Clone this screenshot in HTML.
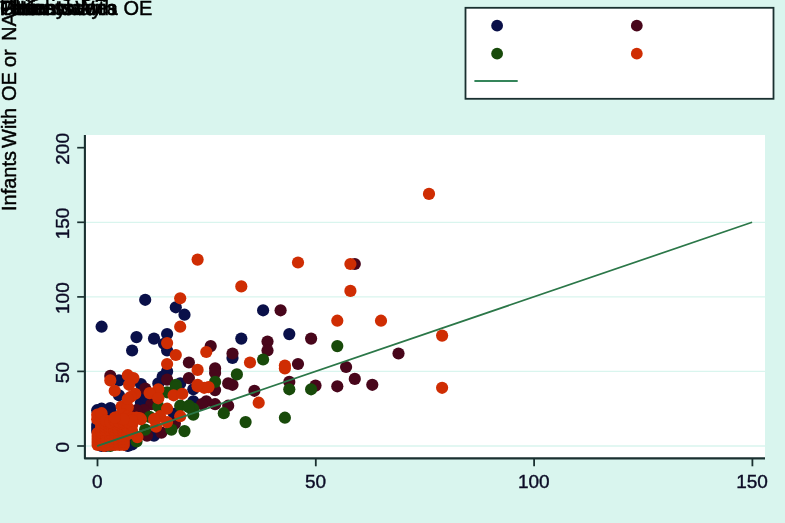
<!DOCTYPE html>
<html lang="en">
<head>
<meta charset="utf-8">
<title>Infants With OE or NAS</title>
<style>
html,body{margin:0;padding:0;background:#d9f5ee;}
body{width:785px;height:523px;overflow:hidden;position:relative;background:#d9f5ee;font-family:"Liberation Sans",Arial,Helvetica,sans-serif;color:#000;}
.tk{font-family:"Liberation Sans",Arial,Helvetica,sans-serif;font-size:19px;fill:#0c0c26;stroke:#0c0c26;stroke-width:0.4px;}
.lb{position:absolute;left:0;top:-2px;-webkit-text-stroke:0.45px #000;white-space:nowrap;font-size:20px;line-height:20px;word-spacing:5px;}
.yl{position:absolute;left:-1px;-webkit-text-stroke:0.45px #000;white-space:nowrap;font-size:20px;line-height:20px;transform-origin:0 0;transform:rotate(-90deg);}
.tt{position:absolute;left:0;top:-16px;white-space:nowrap;font-size:20px;line-height:20px;}
</style>
</head>
<body>
<svg width="785" height="523" viewBox="0 0 785 523" style="position:absolute;left:0;top:0">
<rect x="85" y="135" width="680" height="323.5" fill="#ffffff"/>
<line x1="85" x2="765" y1="446.0" y2="446.0" stroke="#d9f5ee" stroke-width="1.3"/>
<line x1="85" x2="765" y1="371.4" y2="371.4" stroke="#d9f5ee" stroke-width="1.3"/>
<line x1="85" x2="765" y1="296.9" y2="296.9" stroke="#d9f5ee" stroke-width="1.3"/>
<line x1="85" x2="765" y1="222.3" y2="222.3" stroke="#d9f5ee" stroke-width="1.3"/>
<g>
<circle cx="289.3" cy="334.1" r="6.1" fill="#0a1049"/>
<circle cx="145.2" cy="299.8" r="6.1" fill="#0a1049"/>
<circle cx="175.8" cy="307.3" r="6.1" fill="#0a1049"/>
<circle cx="184.5" cy="314.7" r="6.1" fill="#0a1049"/>
<circle cx="101.6" cy="326.7" r="6.1" fill="#0a1049"/>
<circle cx="263.1" cy="310.3" r="6.1" fill="#0a1049"/>
<circle cx="241.3" cy="338.6" r="6.1" fill="#0a1049"/>
<circle cx="136.5" cy="337.1" r="6.1" fill="#0a1049"/>
<circle cx="154.0" cy="338.6" r="6.1" fill="#0a1049"/>
<circle cx="167.1" cy="334.1" r="6.1" fill="#0a1049"/>
<circle cx="164.0" cy="343.8" r="6.1" fill="#0a1049"/>
<circle cx="167.1" cy="350.5" r="6.1" fill="#0a1049"/>
<circle cx="132.1" cy="350.5" r="6.1" fill="#0a1049"/>
<circle cx="167.1" cy="371.4" r="6.1" fill="#0a1049"/>
<circle cx="162.7" cy="376.6" r="6.1" fill="#0a1049"/>
<circle cx="180.2" cy="383.4" r="6.1" fill="#0a1049"/>
<circle cx="158.3" cy="383.4" r="6.1" fill="#0a1049"/>
<circle cx="119.0" cy="380.4" r="6.1" fill="#0a1049"/>
<circle cx="140.9" cy="384.1" r="6.1" fill="#0a1049"/>
<circle cx="193.3" cy="389.3" r="6.1" fill="#0a1049"/>
<circle cx="232.5" cy="358.0" r="6.1" fill="#0a1049"/>
<circle cx="193.3" cy="401.3" r="6.1" fill="#0a1049"/>
<circle cx="140.9" cy="402.7" r="6.1" fill="#0a1049"/>
<circle cx="119.0" cy="395.3" r="6.1" fill="#0a1049"/>
<circle cx="101.6" cy="410.2" r="6.1" fill="#0a1049"/>
<circle cx="110.3" cy="408.0" r="6.1" fill="#0a1049"/>
<circle cx="154.0" cy="435.6" r="6.1" fill="#0a1049"/>
<circle cx="127.8" cy="445.3" r="6.1" fill="#0a1049"/>
<circle cx="101.6" cy="446.0" r="6.1" fill="#0a1049"/>
<circle cx="97.2" cy="410.2" r="6.1" fill="#0a1049"/>
<circle cx="101.6" cy="408.7" r="6.1" fill="#0a1049"/>
<circle cx="105.9" cy="414.7" r="6.1" fill="#0a1049"/>
<circle cx="110.3" cy="413.2" r="6.1" fill="#0a1049"/>
<circle cx="114.7" cy="416.2" r="6.1" fill="#0a1049"/>
<circle cx="127.8" cy="446.0" r="6.1" fill="#0a1049"/>
<circle cx="132.1" cy="444.5" r="6.1" fill="#0a1049"/>
<circle cx="97.2" cy="431.1" r="6.1" fill="#0a1049"/>
<circle cx="97.2" cy="428.1" r="6.1" fill="#0a1049"/>
<circle cx="97.2" cy="425.1" r="6.1" fill="#0a1049"/>
<circle cx="105.9" cy="446.0" r="6.1" fill="#0a1049"/>
<circle cx="145.2" cy="396.8" r="6.1" fill="#0a1049"/>
<circle cx="174.0" cy="413.9" r="6.1" fill="#0a1049"/>
<circle cx="354.8" cy="264.0" r="6.1" fill="#48061b"/>
<circle cx="311.1" cy="338.6" r="6.1" fill="#48061b"/>
<circle cx="398.5" cy="353.5" r="6.1" fill="#48061b"/>
<circle cx="298.0" cy="364.0" r="6.1" fill="#48061b"/>
<circle cx="346.1" cy="367.0" r="6.1" fill="#48061b"/>
<circle cx="354.8" cy="378.9" r="6.1" fill="#48061b"/>
<circle cx="289.3" cy="381.9" r="6.1" fill="#48061b"/>
<circle cx="315.5" cy="385.6" r="6.1" fill="#48061b"/>
<circle cx="337.3" cy="386.3" r="6.1" fill="#48061b"/>
<circle cx="372.3" cy="384.8" r="6.1" fill="#48061b"/>
<circle cx="280.6" cy="310.3" r="6.1" fill="#48061b"/>
<circle cx="267.5" cy="341.6" r="6.1" fill="#48061b"/>
<circle cx="267.5" cy="350.5" r="6.1" fill="#48061b"/>
<circle cx="210.7" cy="346.1" r="6.1" fill="#48061b"/>
<circle cx="232.5" cy="353.5" r="6.1" fill="#48061b"/>
<circle cx="188.9" cy="362.5" r="6.1" fill="#48061b"/>
<circle cx="215.1" cy="368.4" r="6.1" fill="#48061b"/>
<circle cx="215.1" cy="372.9" r="6.1" fill="#48061b"/>
<circle cx="188.9" cy="378.1" r="6.1" fill="#48061b"/>
<circle cx="228.2" cy="383.4" r="6.1" fill="#48061b"/>
<circle cx="232.5" cy="384.8" r="6.1" fill="#48061b"/>
<circle cx="215.1" cy="390.1" r="6.1" fill="#48061b"/>
<circle cx="254.4" cy="390.8" r="6.1" fill="#48061b"/>
<circle cx="206.3" cy="401.3" r="6.1" fill="#48061b"/>
<circle cx="202.0" cy="404.2" r="6.1" fill="#48061b"/>
<circle cx="215.1" cy="404.2" r="6.1" fill="#48061b"/>
<circle cx="228.2" cy="405.7" r="6.1" fill="#48061b"/>
<circle cx="167.1" cy="379.6" r="6.1" fill="#48061b"/>
<circle cx="110.3" cy="375.9" r="6.1" fill="#48061b"/>
<circle cx="145.2" cy="388.6" r="6.1" fill="#48061b"/>
<circle cx="151.3" cy="404.2" r="6.1" fill="#48061b"/>
<circle cx="143.9" cy="410.2" r="6.1" fill="#48061b"/>
<circle cx="174.9" cy="423.6" r="6.1" fill="#48061b"/>
<circle cx="161.4" cy="432.6" r="6.1" fill="#48061b"/>
<circle cx="147.0" cy="435.6" r="6.1" fill="#48061b"/>
<circle cx="136.5" cy="410.2" r="6.1" fill="#48061b"/>
<circle cx="337.3" cy="346.1" r="6.1" fill="#184a0a"/>
<circle cx="289.3" cy="389.3" r="6.1" fill="#184a0a"/>
<circle cx="311.1" cy="389.3" r="6.1" fill="#184a0a"/>
<circle cx="284.9" cy="417.7" r="6.1" fill="#184a0a"/>
<circle cx="263.1" cy="359.5" r="6.1" fill="#184a0a"/>
<circle cx="236.9" cy="374.4" r="6.1" fill="#184a0a"/>
<circle cx="215.1" cy="381.9" r="6.1" fill="#184a0a"/>
<circle cx="188.9" cy="405.7" r="6.1" fill="#184a0a"/>
<circle cx="193.3" cy="408.7" r="6.1" fill="#184a0a"/>
<circle cx="193.3" cy="414.7" r="6.1" fill="#184a0a"/>
<circle cx="223.8" cy="413.2" r="6.1" fill="#184a0a"/>
<circle cx="245.6" cy="422.1" r="6.1" fill="#184a0a"/>
<circle cx="175.8" cy="384.8" r="6.1" fill="#184a0a"/>
<circle cx="167.1" cy="392.3" r="6.1" fill="#184a0a"/>
<circle cx="175.8" cy="387.1" r="6.1" fill="#184a0a"/>
<circle cx="158.3" cy="406.5" r="6.1" fill="#184a0a"/>
<circle cx="180.2" cy="405.7" r="6.1" fill="#184a0a"/>
<circle cx="188.9" cy="407.2" r="6.1" fill="#184a0a"/>
<circle cx="171.4" cy="429.6" r="6.1" fill="#184a0a"/>
<circle cx="184.5" cy="431.1" r="6.1" fill="#184a0a"/>
<circle cx="145.2" cy="429.6" r="6.1" fill="#184a0a"/>
<circle cx="149.6" cy="416.9" r="6.1" fill="#184a0a"/>
<circle cx="136.5" cy="441.5" r="6.1" fill="#184a0a"/>
<circle cx="110.3" cy="446.0" r="6.1" fill="#184a0a"/>
<circle cx="429.0" cy="193.9" r="6.1" fill="#cf2d03"/>
<circle cx="298.0" cy="262.5" r="6.1" fill="#cf2d03"/>
<circle cx="350.4" cy="264.0" r="6.1" fill="#cf2d03"/>
<circle cx="350.4" cy="290.9" r="6.1" fill="#cf2d03"/>
<circle cx="337.3" cy="320.7" r="6.1" fill="#cf2d03"/>
<circle cx="381.0" cy="320.7" r="6.1" fill="#cf2d03"/>
<circle cx="442.1" cy="335.6" r="6.1" fill="#cf2d03"/>
<circle cx="284.9" cy="365.5" r="6.1" fill="#cf2d03"/>
<circle cx="284.9" cy="368.4" r="6.1" fill="#cf2d03"/>
<circle cx="442.1" cy="387.8" r="6.1" fill="#cf2d03"/>
<circle cx="197.6" cy="259.6" r="6.1" fill="#cf2d03"/>
<circle cx="180.2" cy="298.3" r="6.1" fill="#cf2d03"/>
<circle cx="180.2" cy="326.7" r="6.1" fill="#cf2d03"/>
<circle cx="241.3" cy="286.4" r="6.1" fill="#cf2d03"/>
<circle cx="206.3" cy="352.0" r="6.1" fill="#cf2d03"/>
<circle cx="250.0" cy="362.5" r="6.1" fill="#cf2d03"/>
<circle cx="197.6" cy="369.9" r="6.1" fill="#cf2d03"/>
<circle cx="197.6" cy="386.3" r="6.1" fill="#cf2d03"/>
<circle cx="204.2" cy="387.8" r="6.1" fill="#cf2d03"/>
<circle cx="208.5" cy="387.1" r="6.1" fill="#cf2d03"/>
<circle cx="258.7" cy="402.7" r="6.1" fill="#cf2d03"/>
<circle cx="167.1" cy="343.1" r="6.1" fill="#cf2d03"/>
<circle cx="175.8" cy="355.0" r="6.1" fill="#cf2d03"/>
<circle cx="167.1" cy="364.0" r="6.1" fill="#cf2d03"/>
<circle cx="110.3" cy="380.4" r="6.1" fill="#cf2d03"/>
<circle cx="127.8" cy="375.2" r="6.1" fill="#cf2d03"/>
<circle cx="133.4" cy="378.1" r="6.1" fill="#cf2d03"/>
<circle cx="129.1" cy="384.8" r="6.1" fill="#cf2d03"/>
<circle cx="114.7" cy="390.8" r="6.1" fill="#cf2d03"/>
<circle cx="158.3" cy="389.3" r="6.1" fill="#cf2d03"/>
<circle cx="149.6" cy="393.1" r="6.1" fill="#cf2d03"/>
<circle cx="135.2" cy="393.8" r="6.1" fill="#cf2d03"/>
<circle cx="173.6" cy="395.3" r="6.1" fill="#cf2d03"/>
<circle cx="182.3" cy="393.8" r="6.1" fill="#cf2d03"/>
<circle cx="197.6" cy="384.8" r="6.1" fill="#cf2d03"/>
<circle cx="158.3" cy="398.3" r="6.1" fill="#cf2d03"/>
<circle cx="167.1" cy="408.7" r="6.1" fill="#cf2d03"/>
<circle cx="160.1" cy="416.2" r="6.1" fill="#cf2d03"/>
<circle cx="154.0" cy="419.2" r="6.1" fill="#cf2d03"/>
<circle cx="167.1" cy="422.1" r="6.1" fill="#cf2d03"/>
<circle cx="180.2" cy="416.2" r="6.1" fill="#cf2d03"/>
<circle cx="139.6" cy="418.1" r="6.1" fill="#cf2d03"/>
<circle cx="137.4" cy="437.1" r="6.1" fill="#cf2d03"/>
<circle cx="121.2" cy="443.8" r="6.1" fill="#cf2d03"/>
<circle cx="104.2" cy="446.0" r="6.1" fill="#cf2d03"/>
<circle cx="130.8" cy="396.8" r="6.1" fill="#cf2d03"/>
<circle cx="121.6" cy="406.5" r="6.1" fill="#cf2d03"/>
<circle cx="127.8" cy="407.2" r="6.1" fill="#cf2d03"/>
<circle cx="97.6" cy="445.0" r="6.1" fill="#cf2d03"/>
<circle cx="97.6" cy="442.0" r="6.1" fill="#cf2d03"/>
<circle cx="97.6" cy="439.0" r="6.1" fill="#cf2d03"/>
<circle cx="97.6" cy="436.0" r="6.1" fill="#cf2d03"/>
<circle cx="97.6" cy="433.0" r="6.1" fill="#cf2d03"/>
<circle cx="102.0" cy="445.0" r="6.1" fill="#cf2d03"/>
<circle cx="102.0" cy="442.0" r="6.1" fill="#cf2d03"/>
<circle cx="102.0" cy="439.0" r="6.1" fill="#cf2d03"/>
<circle cx="102.0" cy="436.0" r="6.1" fill="#cf2d03"/>
<circle cx="102.0" cy="433.0" r="6.1" fill="#cf2d03"/>
<circle cx="106.4" cy="445.0" r="6.1" fill="#cf2d03"/>
<circle cx="106.4" cy="442.0" r="6.1" fill="#cf2d03"/>
<circle cx="106.4" cy="439.0" r="6.1" fill="#cf2d03"/>
<circle cx="106.4" cy="436.0" r="6.1" fill="#cf2d03"/>
<circle cx="106.4" cy="433.0" r="6.1" fill="#cf2d03"/>
<circle cx="110.7" cy="445.0" r="6.1" fill="#cf2d03"/>
<circle cx="110.7" cy="442.0" r="6.1" fill="#cf2d03"/>
<circle cx="110.7" cy="439.0" r="6.1" fill="#cf2d03"/>
<circle cx="110.7" cy="436.0" r="6.1" fill="#cf2d03"/>
<circle cx="110.7" cy="433.0" r="6.1" fill="#cf2d03"/>
<circle cx="115.1" cy="445.0" r="6.1" fill="#cf2d03"/>
<circle cx="115.1" cy="442.0" r="6.1" fill="#cf2d03"/>
<circle cx="115.1" cy="439.0" r="6.1" fill="#cf2d03"/>
<circle cx="115.1" cy="436.0" r="6.1" fill="#cf2d03"/>
<circle cx="115.1" cy="433.0" r="6.1" fill="#cf2d03"/>
<circle cx="119.5" cy="445.0" r="6.1" fill="#cf2d03"/>
<circle cx="119.5" cy="442.0" r="6.1" fill="#cf2d03"/>
<circle cx="119.5" cy="439.0" r="6.1" fill="#cf2d03"/>
<circle cx="119.5" cy="436.0" r="6.1" fill="#cf2d03"/>
<circle cx="119.5" cy="433.0" r="6.1" fill="#cf2d03"/>
<circle cx="123.8" cy="445.0" r="6.1" fill="#cf2d03"/>
<circle cx="123.8" cy="442.0" r="6.1" fill="#cf2d03"/>
<circle cx="123.8" cy="439.0" r="6.1" fill="#cf2d03"/>
<circle cx="123.8" cy="436.0" r="6.1" fill="#cf2d03"/>
<circle cx="123.8" cy="433.0" r="6.1" fill="#cf2d03"/>
<circle cx="101.1" cy="430.0" r="6.1" fill="#cf2d03"/>
<circle cx="101.1" cy="427.1" r="6.1" fill="#cf2d03"/>
<circle cx="101.1" cy="424.1" r="6.1" fill="#cf2d03"/>
<circle cx="105.5" cy="430.0" r="6.1" fill="#cf2d03"/>
<circle cx="105.5" cy="427.1" r="6.1" fill="#cf2d03"/>
<circle cx="105.5" cy="424.1" r="6.1" fill="#cf2d03"/>
<circle cx="109.9" cy="430.0" r="6.1" fill="#cf2d03"/>
<circle cx="109.9" cy="427.1" r="6.1" fill="#cf2d03"/>
<circle cx="109.9" cy="424.1" r="6.1" fill="#cf2d03"/>
<circle cx="114.2" cy="430.0" r="6.1" fill="#cf2d03"/>
<circle cx="114.2" cy="427.1" r="6.1" fill="#cf2d03"/>
<circle cx="114.2" cy="424.1" r="6.1" fill="#cf2d03"/>
<circle cx="118.6" cy="430.0" r="6.1" fill="#cf2d03"/>
<circle cx="118.6" cy="427.1" r="6.1" fill="#cf2d03"/>
<circle cx="118.6" cy="424.1" r="6.1" fill="#cf2d03"/>
<circle cx="123.0" cy="430.0" r="6.1" fill="#cf2d03"/>
<circle cx="123.0" cy="427.1" r="6.1" fill="#cf2d03"/>
<circle cx="123.0" cy="424.1" r="6.1" fill="#cf2d03"/>
<circle cx="97.2" cy="419.2" r="6.1" fill="#cf2d03"/>
<circle cx="97.2" cy="414.7" r="6.1" fill="#cf2d03"/>
<circle cx="101.6" cy="417.7" r="6.1" fill="#cf2d03"/>
<circle cx="101.6" cy="413.2" r="6.1" fill="#cf2d03"/>
<circle cx="105.9" cy="420.6" r="6.1" fill="#cf2d03"/>
<circle cx="110.3" cy="422.1" r="6.1" fill="#cf2d03"/>
<circle cx="127.8" cy="434.1" r="6.1" fill="#cf2d03"/>
<circle cx="127.8" cy="428.1" r="6.1" fill="#cf2d03"/>
<circle cx="132.1" cy="431.1" r="6.1" fill="#cf2d03"/>
<circle cx="132.1" cy="425.1" r="6.1" fill="#cf2d03"/>
<circle cx="114.7" cy="420.6" r="6.1" fill="#cf2d03"/>
<circle cx="119.0" cy="422.1" r="6.1" fill="#cf2d03"/>
<circle cx="123.4" cy="422.1" r="6.1" fill="#cf2d03"/>
<circle cx="119.0" cy="416.2" r="6.1" fill="#cf2d03"/>
<circle cx="123.4" cy="414.7" r="6.1" fill="#cf2d03"/>
<circle cx="127.8" cy="416.2" r="6.1" fill="#cf2d03"/>
<circle cx="132.1" cy="417.7" r="6.1" fill="#cf2d03"/>
<circle cx="136.5" cy="417.7" r="6.1" fill="#cf2d03"/>
<circle cx="140.9" cy="419.2" r="6.1" fill="#cf2d03"/>
<circle cx="127.8" cy="422.1" r="6.1" fill="#cf2d03"/>
<circle cx="132.1" cy="420.6" r="6.1" fill="#cf2d03"/>
<circle cx="123.4" cy="419.2" r="6.1" fill="#cf2d03"/>
<circle cx="114.7" cy="417.7" r="6.1" fill="#cf2d03"/>
<circle cx="127.8" cy="399.0" r="6.1" fill="#cf2d03"/>
<circle cx="156.1" cy="426.6" r="6.1" fill="#cf2d03"/>
</g>
<line x1="97.2" y1="446.0" x2="752.1" y2="222.3" stroke="#2b7748" stroke-width="1.7"/>
<line x1="97.2" y1="446.0" x2="158.3" y2="425.1" stroke="#2d6a3c" stroke-width="1.7"/>
<polyline points="84.9,135 84.9,458.4 765,458.4" fill="none" stroke="#1a3030" stroke-width="2.1" stroke-linejoin="round"/>
<line x1="77.2" x2="85" y1="446.0" y2="446.0" stroke="#1a3030" stroke-width="1.7"/>
<text transform="translate(69.3,447.2) rotate(-90)" text-anchor="middle" class="tk">0</text>
<line x1="77.2" x2="85" y1="371.4" y2="371.4" stroke="#1a3030" stroke-width="1.7"/>
<text transform="translate(69.3,372.59999999999997) rotate(-90)" text-anchor="middle" class="tk">50</text>
<line x1="77.2" x2="85" y1="296.9" y2="296.9" stroke="#1a3030" stroke-width="1.7"/>
<text transform="translate(69.3,298.09999999999997) rotate(-90)" text-anchor="middle" class="tk">100</text>
<line x1="77.2" x2="85" y1="222.3" y2="222.3" stroke="#1a3030" stroke-width="1.7"/>
<text transform="translate(69.3,223.5) rotate(-90)" text-anchor="middle" class="tk">150</text>
<line x1="77.2" x2="85" y1="147.7" y2="147.7" stroke="#1a3030" stroke-width="1.7"/>
<text transform="translate(69.3,148.89999999999998) rotate(-90)" text-anchor="middle" class="tk">200</text>
<line y1="458" y2="466.3" x1="97.5" x2="97.5" stroke="#1a3030" stroke-width="1.8"/>
<text x="97.2" y="487.6" text-anchor="middle" class="tk">0</text>
<line y1="458" y2="466.3" x1="315.8" x2="315.8" stroke="#1a3030" stroke-width="1.8"/>
<text x="315.5" y="487.6" text-anchor="middle" class="tk">50</text>
<line y1="458" y2="466.3" x1="534.0999999999999" x2="534.0999999999999" stroke="#1a3030" stroke-width="1.8"/>
<text x="533.8" y="487.6" text-anchor="middle" class="tk">100</text>
<line y1="458" y2="466.3" x1="752.4" x2="752.4" stroke="#1a3030" stroke-width="1.8"/>
<text x="752.1" y="487.6" text-anchor="middle" class="tk">150</text>
<rect x="465.5" y="7.8" width="308" height="91" fill="#ffffff" stroke="#1a3030" stroke-width="1.8"/>
<circle cx="497.1" cy="25.7" r="5.9" fill="#0a1049"/>
<circle cx="497.1" cy="53.7" r="5.9" fill="#184a0a"/>
<circle cx="636.8" cy="25.7" r="5.9" fill="#48061b"/>
<circle cx="636.8" cy="53.7" r="5.9" fill="#cf2d03"/>
<line x1="474.4" x2="517.7" y1="81" y2="81" stroke="#35855a" stroke-width="2"/>
</svg>
<div class="tt">NAS VS OE</div>
<div class="lb" style="left:0px;font-size:19.8px">Pennsylvania</div>
<div class="lb" style="left:0px;font-size:19.8px">Tennessee</div>
<div class="lb" style="left:20px;font-size:19.8px">Kentucky</div>
<div class="lb" style="left:0px;font-size:19.8px">Ohio</div>
<div class="lb" style="left:0px;font-size:19.8px">Fitted values</div>
<div class="lb" style="left:12.5px">Infants</div>
<div class="lb" style="left:75.5px">With</div>
<div class="lb" style="left:123.5px">OE</div>
<div class="yl" style="top:211.3px">Infants</div>
<div class="yl" style="top:148.1px">With</div>
<div class="yl" style="top:101.3px">OE</div>
<div class="yl" style="top:67px">or</div>
<div class="yl" style="top:41.3px">NAS</div>
</body>
</html>
